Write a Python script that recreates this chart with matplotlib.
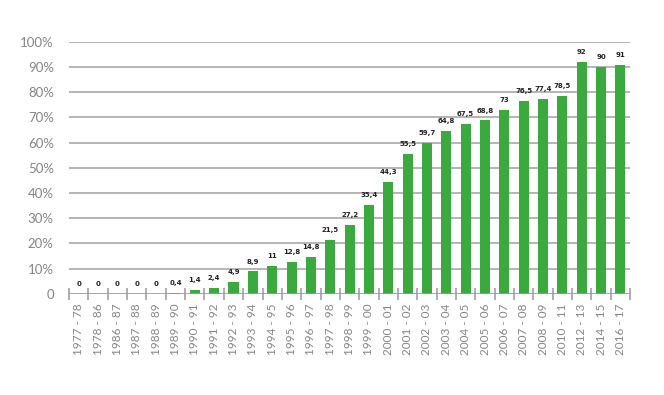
import matplotlib
matplotlib.use("Agg")
import matplotlib.pyplot as plt
import numpy as np

seasons = ['1977 - 78', '1978 - 86', '1986 - 87', '1987 - 88', '1988 - 89',
           '1989 - 90', '1990 - 91', '1991 - 92', '1992 - 93', '1993 - 94',
           '1994 - 95', '1995 - 96', '1996 - 97', '1997 - 98', '1998 - 99',
           '1999 - 00', '2000 - 01', '2001 - 02', '2002 - 03', '2003 - 04',
           '2004 - 05', '2005 - 06', '2006 - 07', '2007 - 08', '2008 - 09',
           '2010 - 11', '2012 - 13', '2014 - 15', '2016 - 17']
values = [0, 0, 0, 0, 0, 0.4, 1.4, 2.4, 4.9, 8.9, 11, 12.8, 14.8, 21.5, 27.2,
          35.4, 44.3, 55.5, 59.7, 64.8, 67.5, 68.8, 73, 76.5, 77.4, 78.5,
          92, 90, 91]
ytick_vals = [0, 10, 20, 30, 40, 50, 60, 70, 80, 90, 100]
ytick_labels = ['0', '10%', '20%', '30%', '40%', '50%', '60%', '70%', '80%', '90%', '100%']

plt.rcParams['font.family'] = ['Lato', 'DejaVu Sans']

green = '#3aaa3e'
grey = '#999999'

fig = plt.figure(figsize=(6.64, 3.95), dpi=100)
ax = fig.add_axes([0.104, 0.256, 0.845, 0.638])

x = np.arange(len(seasons))
ax.bar(x, values, width=0.52, color=green, zorder=3)

for xi, v in zip(x, values):
    lab = ('%g' % v).replace('.', ',')
    ax.annotate(lab, (xi, v), xytext=(0, 5), textcoords='offset points',
                ha='center', va='bottom', fontsize=5, fontweight='bold',
                family='DejaVu Sans', color='#222222')

ax.set_xlim(-0.5, len(seasons) - 0.5)
ax.set_ylim(0, 100)

# grid lines at 10..100
for yv in ytick_vals[1:]:
    ax.axhline(yv, color='#b4b4b4', lw=1.4, zorder=1)
ax.axhline(0, color=grey, lw=1.2, zorder=4)

ax.set_yticks(ytick_vals)
ax.set_yticklabels(ytick_labels, fontsize=9.5, color='#858585')
ax.tick_params(axis='y', length=0, pad=11)

ax.set_xticks(x)
ax.set_xticklabels(seasons, rotation=90, fontsize=8.5, color='#858585')
ax.set_xticks(np.arange(-0.5, len(seasons)), minor=True)
ax.tick_params(axis='x', which='major', length=0, pad=7)
ax.tick_params(axis='x', which='minor', length=9, direction='inout',
               color=grey, width=1.1)

for s in ax.spines.values():
    s.set_visible(False)

fig.savefig('out.png', dpi=100)
